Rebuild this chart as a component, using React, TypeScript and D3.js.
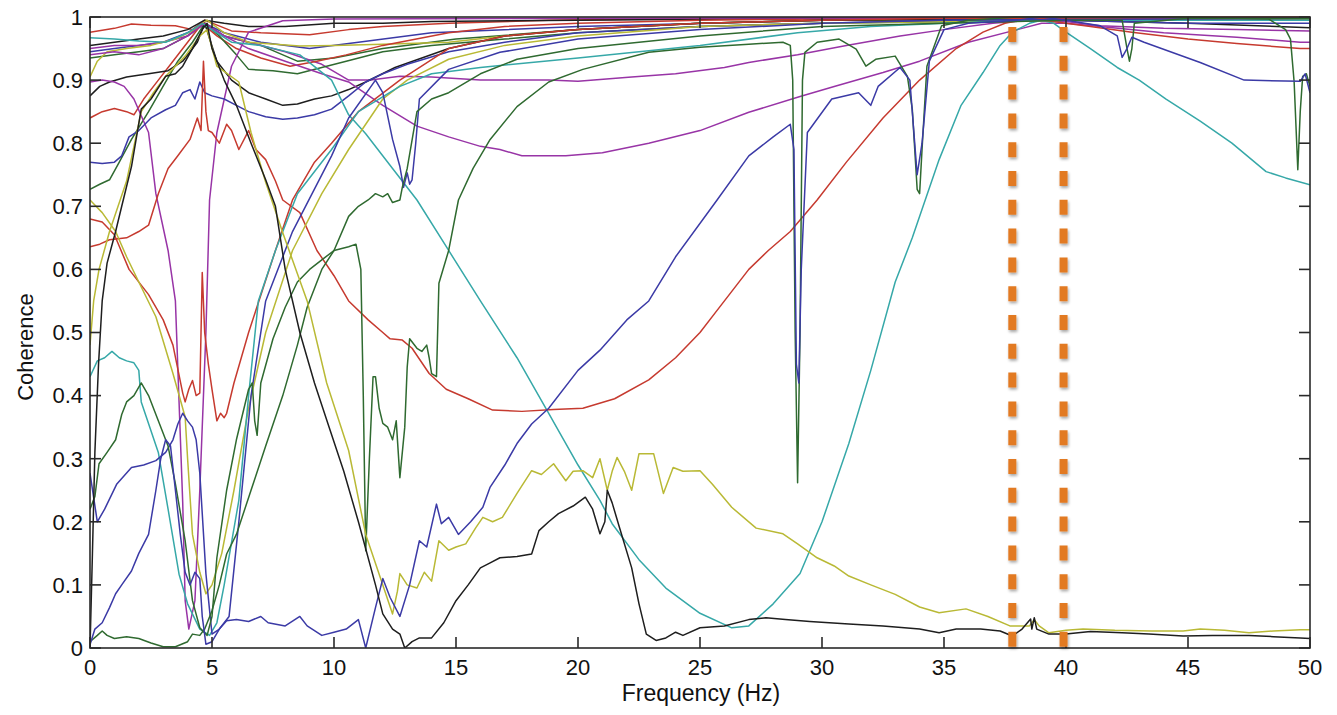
import React from "react";
import * as d3 from "d3";

type Pt = [number, number];

// Frequency (Hz), coherence pairs for each channel pair
const cyanMain: Pt[] = [[0,0.967],[1,0.965],[2,0.962],[3.1,0.96],[4,0.975],[4.6,0.99],[5.2,0.975],[5.8,0.96],[7,0.955],[8.6,0.94],[9.9,0.9],[10.6,0.845],[11.3,0.815],[12.4,0.76],[13.4,0.71],[14.7,0.63],[16,0.55],[17.5,0.46],[18.8,0.372],[20,0.29],[20.9,0.234],[21.4,0.197],[22.5,0.14],[23.6,0.095],[25,0.055],[26.3,0.032],[27,0.035],[28,0.07],[29.1,0.118],[30,0.2],[31.1,0.324],[32,0.44],[33,0.58],[33.7,0.65],[34.8,0.774],[35.7,0.86],[36.6,0.912],[37.3,0.955],[37.8,0.976],[38.5,0.99],[39,0.995],[39.5,0.99],[40,0.976],[41,0.95],[42.1,0.92],[43,0.9],[44.1,0.87],[45.5,0.835],[46.8,0.8],[48.2,0.755],[49,0.745],[50,0.734]];
const cyanLow: Pt[] = [[0,0.43],[0.3,0.455],[0.6,0.46],[0.9,0.47],[1.2,0.46],[1.5,0.455],[1.8,0.452],[2.0,0.44],[2.1,0.39],[2.8,0.31],[3.2,0.22],[3.65,0.117],[4.0,0.07],[4.5,0.03],[4.9,0.02],[5.2,0.04],[5.5,0.1],[6.1,0.234],[6.5,0.4],[6.9,0.55],[7.6,0.63],[8.5,0.72],[9.9,0.79],[11,0.85],[12.7,0.89],[14,0.91],[16,0.92],[20,0.935],[25,0.955],[29,0.975],[32,0.985],[35,0.99],[38,0.995],[40,0.995],[45,0.995],[50,0.995]];
const redU: Pt[] = [[0,0.636],[0.4,0.64],[0.8,0.647],[1.5,0.65],[2.0,0.66],[2.4,0.67],[2.8,0.72],[3.2,0.76],[3.6,0.78],[4.1,0.806],[4.4,0.84],[4.55,0.82],[4.65,0.93],[4.75,0.85],[4.85,0.82],[5.0,0.817],[5.3,0.8],[5.6,0.83],[5.8,0.82],[6.1,0.79],[6.5,0.82],[6.8,0.79],[7.2,0.774],[7.6,0.74],[7.9,0.71],[8.6,0.69],[9.3,0.63],[10,0.59],[10.6,0.55],[11.4,0.52],[12,0.5],[12.3,0.49],[12.8,0.488],[13.2,0.475],[13.9,0.435],[14.6,0.41],[15.5,0.395],[16.5,0.377],[17.7,0.375],[19,0.378],[20.2,0.38],[21.5,0.395],[22.9,0.425],[24,0.46],[25,0.5],[25.7,0.535],[27,0.6],[27.8,0.63],[28.7,0.66],[29.8,0.71],[31,0.77],[32.5,0.84],[34,0.9],[35.5,0.95],[36.6,0.976],[37.5,0.99],[38.5,0.998],[40,0.99],[41,0.985],[42.7,0.976],[45,0.965],[47,0.958],[49.6,0.95],[50,0.95]];
const redLow: Pt[] = [[0,0.68],[0.5,0.675],[1,0.655],[1.6,0.6],[2.4,0.56],[3.0,0.52],[3.4,0.48],[3.8,0.404],[3.9,0.39],[4.05,0.41],[4.2,0.424],[4.35,0.4],[4.5,0.404],[4.6,0.595],[4.7,0.5],[4.85,0.45],[5.0,0.41],[5.2,0.36],[5.35,0.372],[5.5,0.365],[5.6,0.372],[5.9,0.42],[6.5,0.5],[7.6,0.63],[8.3,0.71],[9.2,0.77],[9.9,0.8],[11,0.85],[12.7,0.9],[14.7,0.95],[17,0.97],[20,0.98],[25,0.99],[30,0.995],[35,0.998],[50,0.998]];
const redTop: Pt[] = [[0,0.976],[1,0.982],[1.7,0.989],[2.5,0.987],[3.5,0.986],[4.2,0.98],[4.7,0.995],[5.8,0.978],[7,0.975],[9,0.972],[10.6,0.98],[12,0.985],[14.7,0.99],[18.8,0.995],[25,0.998],[30,0.999],[40,1],[50,1]];
const redMid: Pt[] = [[0,0.84],[0.5,0.85],[1,0.855],[1.5,0.85],[1.8,0.845],[2.2,0.87],[2.8,0.9],[3.4,0.93],[4.0,0.96],[4.6,0.99],[5.2,0.97],[6,0.95],[7,0.935],[8.2,0.922],[9.3,0.93],[10.5,0.94],[12,0.955],[14.7,0.975],[17,0.985],[20,0.99],[25,0.995],[30,0.997],[50,0.998]];
const purpleV: Pt[] = [[0,0.897],[0.5,0.9],[1,0.897],[1.4,0.89],[1.8,0.87],[2.4,0.817],[2.7,0.72],[3.2,0.63],[3.5,0.55],[3.65,0.39],[3.8,0.23],[3.9,0.075],[4.05,0.03],[4.3,0.075],[4.5,0.25],[4.75,0.5],[4.9,0.71],[5.2,0.817],[5.8,0.922],[6.5,0.976],[7.9,0.994],[10,0.997],[20,0.998],[50,0.999]];
const purplePlateau: Pt[] = [[0,0.95],[1,0.955],[2,0.955],[3,0.96],[4,0.97],[4.7,0.99],[5.5,0.97],[6.5,0.96],[8,0.945],[9.5,0.925],[10.6,0.9],[11.5,0.9],[12.7,0.906],[14,0.905],[16,0.9],[18.8,0.9],[20,0.898],[22.2,0.905],[24,0.91],[26,0.92],[27,0.928],[29,0.94],[31,0.955],[33.2,0.97],[35,0.98],[37,0.99],[38.5,0.995],[40,0.993],[41.4,0.986],[44,0.982],[47,0.98],[50,0.978]];
const purpleDeep: Pt[] = [[0,0.94],[1,0.945],[2,0.94],[3,0.95],[4,0.97],[4.7,0.99],[5.5,0.97],[6.5,0.95],[8,0.93],[9.5,0.91],[10.6,0.897],[12,0.86],[13.4,0.827],[14.7,0.81],[16,0.795],[16.8,0.79],[17.7,0.78],[19.5,0.78],[21,0.785],[22.9,0.8],[25,0.82],[27,0.849],[29.1,0.874],[30.5,0.89],[32.5,0.912],[34,0.93],[36,0.96],[38,0.98],[39,0.99],[40,0.99],[41.4,0.985],[44,0.975],[47,0.968],[49.6,0.96],[50,0.96]];
const blueMid: Pt[] = [[0,0.77],[0.5,0.768],[1,0.77],[1.3,0.78],[1.6,0.81],[2,0.82],[2.5,0.84],[3.1,0.853],[3.5,0.86],[3.8,0.88],[4.1,0.885],[4.3,0.87],[4.5,0.897],[4.7,0.88],[5,0.875],[5.5,0.87],[6.0,0.86],[6.5,0.85],[7.2,0.842],[7.9,0.838],[8.5,0.84],[9.2,0.845],[9.9,0.854],[10.6,0.875],[11.3,0.897],[12,0.91],[13,0.925],[14.7,0.945],[17,0.96],[20,0.975],[25,0.985],[30,0.99],[35,0.995],[40,0.995],[45,0.99],[50,0.99]];
const blueDip: Pt[] = [[0,0.277],[0.3,0.2],[0.6,0.22],[1.1,0.26],[1.7,0.286],[2.2,0.29],[2.7,0.297],[3.1,0.31],[3.4,0.33],[3.6,0.355],[3.8,0.372],[4.0,0.36],[4.2,0.35],[4.35,0.33],[4.5,0.277],[4.75,0.118],[4.9,0.06],[5.0,0.022],[5.3,0.03],[5.7,0.05],[6.1,0.2],[6.6,0.4],[7.2,0.55],[8.3,0.66],[9.9,0.78],[10.6,0.84],[11.7,0.9],[12.0,0.88],[12.4,0.806],[12.7,0.763],[12.85,0.73],[13.0,0.753],[13.1,0.735],[13.2,0.742],[13.35,0.8],[13.5,0.87],[14.7,0.917],[16.8,0.944],[20,0.965],[25,0.98],[30,0.99],[35,0.995],[50,0.998]];
const blueLong: Pt[] = [[0,0.005],[0.2,0.03],[0.5,0.04],[0.8,0.064],[1.05,0.086],[1.3,0.1],[1.7,0.122],[2.0,0.15],[2.4,0.18],[2.7,0.25],[2.9,0.3],[3.1,0.33],[3.3,0.32],[3.5,0.25],[3.7,0.18],[3.9,0.12],[4.1,0.1],[4.3,0.12],[4.5,0.11],[4.6,0.05],[4.75,0.006],[5.0,0.01],[5.3,0.03],[5.6,0.043],[6.0,0.045],[6.5,0.042],[7.0,0.05],[7.3,0.04],[8.0,0.035],[8.6,0.05],[8.9,0.035],[9.5,0.02],[10,0.025],[10.5,0.03],[11,0.045],[11.3,0.0],[11.7,0.064],[12.0,0.11],[12.3,0.08],[12.7,0.05],[13.1,0.1],[13.5,0.17],[13.8,0.16],[14.2,0.228],[14.4,0.197],[14.7,0.207],[15.1,0.18],[15.6,0.2],[16.1,0.223],[16.4,0.255],[17,0.29],[17.5,0.324],[18.1,0.355],[18.8,0.38],[20,0.44],[20.9,0.472],[22,0.52],[22.9,0.55],[24,0.62],[25.7,0.71],[27,0.78],[28,0.81],[28.7,0.83],[28.85,0.79],[28.95,0.45],[29.05,0.42],[29.15,0.6],[29.4,0.817],[30.4,0.87],[31.5,0.88],[32,0.86],[32.3,0.89],[33.2,0.92],[33.6,0.9],[33.9,0.75],[34.1,0.8],[34.4,0.93],[35,0.98],[36,0.99],[38,0.995],[39,1.0],[40,0.995],[41.4,0.986],[42.1,0.97],[42.3,0.936],[42.5,0.95],[42.7,0.968],[43.2,0.96],[45.5,0.928],[47.3,0.9],[49.6,0.898],[49.8,0.91],[50,0.88]];
const blackHigh: Pt[] = [[0,0.875],[0.4,0.89],[0.8,0.897],[1.5,0.905],[2.4,0.91],[3.2,0.915],[3.8,0.93],[4.4,0.96],[4.7,0.99],[5.2,0.93],[5.8,0.9],[6.5,0.88],[7.2,0.87],[7.9,0.86],[8.5,0.862],[9.2,0.87],[9.9,0.875],[10.6,0.885],[11.3,0.897],[12.5,0.92],[14.7,0.95],[17,0.97],[20,0.98],[25,0.99],[30,0.995],[40,0.997],[50,0.997]];
const blackV: Pt[] = [[0,0.0],[0.1,0.15],[0.2,0.31],[0.35,0.45],[0.5,0.55],[0.7,0.61],[1.05,0.66],[1.3,0.7],[1.7,0.763],[2.1,0.854],[2.5,0.87],[3.1,0.906],[3.5,0.91],[3.8,0.922],[4.2,0.95],[4.6,0.98],[4.8,0.99],[5.0,0.95],[5.5,0.9],[6.0,0.86],[6.6,0.8],[7.2,0.742],[7.6,0.7],[8.0,0.6],[8.6,0.5],[9.2,0.42],[9.8,0.35],[10.4,0.28],[11.0,0.2],[11.7,0.1],[12,0.054],[12.4,0.03],[12.7,0.022],[12.9,0.0],[13.2,0.01],[13.5,0.016],[14,0.016],[14.5,0.04],[15,0.075],[15.5,0.1],[16,0.127],[16.4,0.135],[16.8,0.143],[17.5,0.145],[18.1,0.149],[18.4,0.186],[18.8,0.2],[19.2,0.213],[19.8,0.225],[20.3,0.239],[20.6,0.22],[20.9,0.181],[21.1,0.2],[21.2,0.25],[21.4,0.23],[21.7,0.191],[22.2,0.127],[22.5,0.07],[22.8,0.022],[23.2,0.012],[23.6,0.016],[24,0.025],[24.3,0.02],[25,0.032],[26,0.035],[27,0.045],[27.7,0.048],[28.5,0.045],[29.5,0.042],[31.1,0.038],[32.5,0.035],[34,0.03],[34.8,0.024],[35.5,0.03],[36.5,0.03],[37.3,0.027],[37.8,0.019],[38.2,0.03],[38.55,0.046],[38.6,0.03],[38.7,0.048],[38.8,0.03],[39.3,0.022],[40,0.022],[41,0.026],[42.3,0.024],[43.4,0.022],[44.8,0.019],[46,0.02],[47.5,0.02],[48.5,0.018],[49.6,0.016],[50,0.015]];
const blackTop: Pt[] = [[0,0.955],[1,0.96],[2,0.965],[3,0.97],[4,0.98],[4.7,0.995],[5.5,0.99],[6.5,0.985],[8,0.985],[10,0.99],[12,0.99],[14,0.993],[20,0.995],[30,0.998],[40,0.995],[45,0.99],[50,0.983]];
const yellowHigh: Pt[] = [[0,0.905],[0.3,0.93],[0.7,0.945],[1.5,0.95],[2.5,0.955],[3.5,0.965],[4.3,0.98],[4.8,0.995],[5.5,0.975],[6.5,0.96],[8.6,0.954],[10,0.955],[12,0.957],[14.7,0.96],[17,0.97],[20,0.98],[25,0.99],[30,0.995],[50,0.998]];
const yellowDrop: Pt[] = [[0,0.48],[0.15,0.55],[0.37,0.6],[0.8,0.66],[1.5,0.74],[2.1,0.85],[2.6,0.88],[3.1,0.906],[3.9,0.938],[4.5,0.97],[4.8,0.98],[5.2,0.922],[6.1,0.897],[6.6,0.817],[7.2,0.738],[7.9,0.658],[8.9,0.55],[9.7,0.42],[10.6,0.313],[11.3,0.18],[12,0.1],[12.4,0.054],[12.6,0.09],[12.7,0.118],[13.0,0.1],[13.4,0.095],[13.7,0.12],[14,0.106],[14.3,0.17],[14.7,0.155],[15,0.16],[15.4,0.165],[15.8,0.19],[16.1,0.207],[16.5,0.2],[16.9,0.207],[17.5,0.245],[18.1,0.281],[18.5,0.275],[19,0.292],[19.5,0.265],[19.8,0.28],[20.2,0.281],[20.6,0.27],[20.9,0.3],[21.2,0.25],[21.4,0.28],[21.6,0.302],[21.9,0.28],[22.2,0.25],[22.5,0.308],[23.1,0.308],[23.5,0.245],[23.9,0.286],[24.3,0.28],[25,0.281],[25.5,0.26],[26.3,0.223],[27.3,0.19],[28.4,0.181],[29,0.165],[29.8,0.143],[30.5,0.13],[31.1,0.114],[32,0.1],[33,0.085],[34,0.065],[34.8,0.056],[35.9,0.062],[36.8,0.05],[37.7,0.035],[38.5,0.035],[38.7,0.045],[38.9,0.035],[39.3,0.024],[40,0.028],[40.7,0.03],[42,0.028],[43.5,0.027],[44.8,0.027],[45.5,0.03],[46.5,0.028],[47.5,0.024],[48.5,0.027],[49.6,0.029],[50,0.029]];
const yellowLow: Pt[] = [[0,0.71],[0.5,0.69],[1.05,0.66],[1.5,0.62],[2,0.58],[2.7,0.525],[3.4,0.435],[3.9,0.366],[4.0,0.3],[4.2,0.18],[4.5,0.12],[4.75,0.086],[5.0,0.1],[5.4,0.15],[5.9,0.25],[6.5,0.38],[7.2,0.5],[8.3,0.63],[9.5,0.72],[10.6,0.79],[12,0.87],[13,0.9],[14.7,0.933],[17,0.955],[20,0.97],[25,0.985],[30,0.99],[40,0.995],[50,0.995]];
const greenLow: Pt[] = [[0,0.01],[0.3,0.02],[0.5,0.027],[0.7,0.02],[1.0,0.015],[1.5,0.018],[2,0.015],[2.5,0.008],[3,0.002],[3.5,0.002],[4,0.01],[4.2,0.022],[4.5,0.02],[4.7,0.03],[5,0.059],[5.3,0.1],[5.6,0.149],[6,0.18],[6.6,0.25],[7.2,0.32],[7.9,0.4],[8.5,0.48],[8.9,0.54],[9.5,0.6],[10,0.63],[10.6,0.684],[11,0.7],[11.4,0.71],[11.7,0.72],[12,0.715],[12.2,0.72],[12.4,0.706],[12.7,0.71],[12.8,0.73],[13.0,0.76],[13.4,0.85],[14,0.87],[14.7,0.88],[16,0.91],[17.5,0.933],[20,0.95],[25,0.97],[30,0.985],[35,0.99],[40,0.995],[42.3,0.995],[42.5,0.95],[42.6,0.93],[42.7,0.95],[42.8,0.99],[45,0.998],[50,0.998]];
const greenSpiky: Pt[] = [[0,0.22],[0.2,0.24],[0.37,0.292],[0.7,0.31],[1.05,0.33],[1.3,0.37],[1.5,0.39],[1.8,0.4],[2.1,0.42],[2.4,0.4],[2.8,0.36],[3.2,0.32],[3.5,0.26],[3.9,0.17],[4.2,0.075],[4.5,0.032],[4.8,0.02],[5.0,0.05],[5.2,0.143],[5.6,0.25],[6.0,0.33],[6.5,0.41],[6.65,0.42],[6.75,0.36],[6.85,0.337],[7.0,0.42],[7.5,0.49],[8.0,0.54],[8.5,0.58],[9.0,0.6],[9.5,0.615],[10,0.63],[10.6,0.636],[10.9,0.64],[11.1,0.6],[11.2,0.4],[11.3,0.154],[11.45,0.3],[11.6,0.43],[11.7,0.43],[11.85,0.38],[12.0,0.356],[12.2,0.35],[12.4,0.33],[12.55,0.36],[12.7,0.27],[12.9,0.35],[13.0,0.445],[13.1,0.49],[13.4,0.475],[13.6,0.47],[13.8,0.48],[13.9,0.46],[14.0,0.435],[14.2,0.43],[14.3,0.578],[14.7,0.63],[15.1,0.71],[15.7,0.76],[16.4,0.806],[17.5,0.858],[18.8,0.897],[20.2,0.917],[22.9,0.944],[25,0.952],[27,0.957],[28.4,0.96],[28.7,0.955],[28.8,0.9],[28.9,0.5],[29.0,0.262],[29.1,0.5],[29.2,0.9],[29.3,0.944],[29.8,0.96],[30.7,0.965],[31.4,0.949],[31.8,0.922],[32.2,0.933],[33,0.938],[33.5,0.906],[33.7,0.854],[33.9,0.727],[34.0,0.72],[34.1,0.79],[34.3,0.922],[34.9,0.986],[36,0.995],[38,1],[45,1],[48.3,0.997],[49,0.98],[49.2,0.965],[49.35,0.897],[49.5,0.758],[49.6,0.85],[49.7,0.906],[49.85,0.91],[50,0.89]];
const greenTop: Pt[] = [[0,0.727],[0.4,0.735],[0.8,0.742],[1.2,0.77],[1.7,0.806],[2.4,0.85],[3.1,0.897],[3.6,0.93],[4.2,0.96],[4.7,0.99],[5.3,0.97],[6,0.94],[6.5,0.917],[7.5,0.915],[8.5,0.91],[9.5,0.92],[10.5,0.93],[12,0.945],[14,0.955],[17,0.965],[20,0.975],[25,0.985],[30,0.99],[40,0.995],[50,0.995]];
const greenHigh: Pt[] = [[0,0.935],[1,0.94],[2,0.945],[3,0.95],[4,0.97],[4.7,0.99],[5.5,0.97],[7,0.955],[8.5,0.93],[10,0.935],[12,0.95],[15,0.965],[20,0.98],[25,0.99],[30,0.995],[40,0.998],[50,0.998]];
const blueTop: Pt[] = [[0,0.945],[1,0.95],[2,0.955],[3,0.96],[4,0.975],[4.7,0.99],[5.5,0.975],[7,0.96],[9,0.95],[11,0.96],[14,0.975],[20,0.985],[30,0.995],[40,0.998],[50,0.998]];

// Axis ticks and the marked frequency band
const xTicks = [0, 5, 10, 15, 20, 25, 30, 35, 40, 45, 50];
const yTicks = [0, 0.1, 0.2, 0.3, 0.4, 0.5, 0.6, 0.7, 0.8, 0.9, 1];
const bandEdges = [37.8, 39.9];

const COLORS = {
  red: "#c63a2f",
  blue: "#3b3aa6",
  cyan: "#36a8a8",
  purple: "#9834a6",
  yellow: "#b9b935",
  green: "#2f6a30",
  black: "#1e1e1e",
};

const series = [
  { data: redTop, color: COLORS.red },
  { data: blueTop, color: COLORS.blue },
  { data: greenHigh, color: COLORS.green },
  { data: blackTop, color: COLORS.black },
  { data: purplePlateau, color: COLORS.purple },
  { data: yellowHigh, color: COLORS.yellow },
  { data: redMid, color: COLORS.red },
  { data: greenTop, color: COLORS.green },
  { data: blackHigh, color: COLORS.black },
  { data: purpleDeep, color: COLORS.purple },
  { data: purpleV, color: COLORS.purple },
  { data: blueMid, color: COLORS.blue },
  { data: cyanMain, color: COLORS.cyan },
  { data: redU, color: COLORS.red },
  { data: redLow, color: COLORS.red },
  { data: yellowLow, color: COLORS.yellow },
  { data: cyanLow, color: COLORS.cyan },
  { data: blueDip, color: COLORS.blue },
  { data: greenLow, color: COLORS.green },
  { data: greenSpiky, color: COLORS.green },
  { data: yellowDrop, color: COLORS.yellow },
  { data: blueLong, color: COLORS.blue },
  { data: blackV, color: COLORS.black },
];

const W = 1337;
const H = 715;
const M = { left: 90, right: 1310, top: 17, bottom: 648 };
const FONT = "'Liberation Sans', Arial, sans-serif";

export default function App() {
  const x = d3.scaleLinear().domain([0, 50]).range([M.left, M.right]);
  const y = d3.scaleLinear().domain([0, 1]).range([M.bottom, M.top]);
  const line = d3
    .line<Pt>()
    .x((d) => x(d[0]))
    .y((d) => y(d[1]));
  const tick = 11;
  const fmt = (v: number) => (v === 0 || v === 1 ? String(v) : v.toFixed(1));

  return (
    <svg
      width={W}
      height={H}
      style={{ position: "absolute", left: 0, top: 0, background: "#fff" }}
      fontFamily={FONT}
    >
      <defs>
        <clipPath id="plot">
          <rect x={M.left} y={M.top - 1} width={M.right - M.left} height={M.bottom - M.top + 1} />
        </clipPath>
        <filter id="soft" x="-50%" y="-10%" width="200%" height="120%">
          <feGaussianBlur in="SourceAlpha" stdDeviation="1.5" />
          <feOffset dx="1" dy="1.5" result="off" />
          <feComponentTransfer>
            <feFuncA type="linear" slope="0.35" />
          </feComponentTransfer>
          <feMerge>
            <feMergeNode />
            <feMergeNode in="SourceGraphic" />
          </feMerge>
        </filter>
      </defs>
      <rect width={W} height={H} fill="#fff" />

      <g clipPath="url(#plot)" fill="none" strokeWidth={1.5} strokeLinejoin="round">
        {series.map((s, i) => (
          <path key={i} d={line(s.data) || ""} stroke={s.color} />
        ))}
      </g>

      {/* frame and inward ticks */}
      <g stroke="#2a2a2a" strokeWidth={1.6} fill="none">
        <rect x={M.left} y={M.top} width={M.right - M.left} height={M.bottom - M.top} />
        {xTicks.map((t) => (
          <g key={"xt" + t}>
            <line x1={x(t)} x2={x(t)} y1={M.bottom} y2={M.bottom - tick} />
            <line x1={x(t)} x2={x(t)} y1={M.top} y2={M.top + tick} />
          </g>
        ))}
        {yTicks.map((t) => (
          <g key={"yt" + t}>
            <line x1={M.left} x2={M.left + tick} y1={y(t)} y2={y(t)} />
            <line x1={M.right} x2={M.right - tick} y1={y(t)} y2={y(t)} />
          </g>
        ))}
      </g>

      {/* frequency band markers */}
      <g filter="url(#soft)">
        {bandEdges.map((f) => (
          <line
            key={"b" + f}
            x1={x(f)}
            x2={x(f)}
            y1={27}
            y2={M.bottom}
            stroke="#e27a22"
            strokeWidth={8}
            strokeDasharray="15 13.8"
          />
        ))}
      </g>

      <g fill="#111" fontSize={22}>
        {xTicks.map((t) => (
          <text key={"xl" + t} x={x(t)} y={675} textAnchor="middle">
            {t}
          </text>
        ))}
        {yTicks.map((t) => (
          <text key={"yl" + t} x={83} y={y(t) + 7.8} textAnchor="end">
            {fmt(t)}
          </text>
        ))}
      </g>
      <text x={(M.left + M.right) / 2 + 1} y={701} textAnchor="middle" fontSize={23} fill="#111">
        Frequency (Hz)
      </text>
      <text
        transform={`translate(33, 347) rotate(-90)`}
        textAnchor="middle"
        fontSize={22}
        fill="#111"
      >
        Coherence
      </text>
    </svg>
  );
}
